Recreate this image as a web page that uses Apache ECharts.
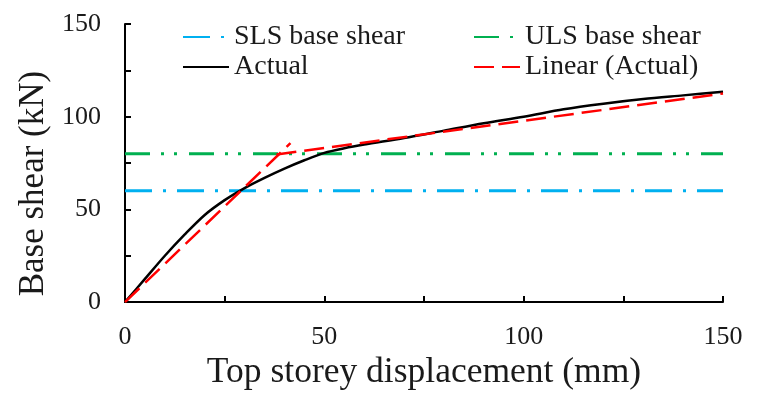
<!DOCTYPE html>
<html><head><meta charset="utf-8">
<script src="https://cdn.jsdelivr.net/npm/echarts@6/dist/echarts.min.js"></script>
<style>html,body{margin:0;padding:0;background:#fff}#c{width:760px;height:396px}</style>
</head><body><div id="c"></div>
<script>
// Data
const actualX = [0, 5, 10, 15, 20, 25, 30, 35, 40, 45, 50, 55, 60, 70, 80, 90, 100, 110, 120, 130, 140, 150];
const actualY = [0, 12.5, 25, 36.5, 47, 55, 61.5, 67, 72, 76.5, 80.5, 83, 85, 88.5, 92.5, 96.5, 100, 104, 107, 109.5, 111.5, 113.5];
const linear1X = [0, 41.5];
const linear1Y = [0, 85.7];
const linear2X = [38, 150];
const linear2Y = [79.6, 112.5];
const slsX = [0, 150];
const slsY = [60, 60];
const ulsX = [0, 150];
const ulsY = [80, 80];
const axisTicks = [0, 50, 100, 150];

const zip = (a, b) => a.map((v, i) => [v, b[i]]);
const font = 'Liberation Serif';
const chart = echarts.init(document.getElementById('c'));
const axisCommon = {
  type: 'value', min: 0, max: 150, interval: 25,
  axisLine: { show: true, lineStyle: { color: '#000', width: 2 } },
  axisTick: { show: true, inside: true, length: 6, lineStyle: { color: '#000', width: 2 } },
  splitLine: { show: false },
  axisLabel: {
    fontFamily: font, fontSize: 26, color: '#1a1a1a',
    formatter: v => axisTicks.includes(v) ? String(v) : ''
  },
  nameLocation: 'middle'
};
const legendCommon = {
  orient: 'vertical', top: 23, padding: 0,
  itemWidth: 46, itemHeight: 14, itemGap: 2,
  itemStyle: { opacity: 0 },
  textStyle: { fontFamily: font, fontSize: 28, color: '#1a1a1a' }
};
chart.setOption({
  animation: false,
  grid: { left: 125, right: 37, top: 24, bottom: 92 },
  xAxis: Object.assign({}, axisCommon, {
    name: 'Top storey displacement (mm)', nameGap: 44,
    nameTextStyle: { fontFamily: font, fontSize: 35.5, color: '#1a1a1a' },
    axisLabel: Object.assign({}, axisCommon.axisLabel, { margin: 22 })
  }),
  yAxis: Object.assign({}, axisCommon, {
    name: 'Base shear (kN)', nameGap: 68,
    nameTextStyle: { fontFamily: font, fontSize: 35, color: '#1a1a1a', padding: [0, 41, 0, 0] },
    axisLabel: Object.assign({}, axisCommon.axisLabel, { margin: 24 })
  }),
  legend: [
    Object.assign({}, legendCommon, { data: ['SLS base shear', 'Actual'], left: 182 }),
    Object.assign({}, legendCommon, { data: ['ULS base shear', 'Linear (Actual)'], left: 473 })
  ],
  series: [
    { name: 'SLS base shear', type: 'line', symbol: 'none', data: zip(slsX, slsY),
      lineStyle: { color: '#00B0F0', width: 3, type: [27, 11, 3, 11] }, itemStyle: { color: '#00B0F0' } },
    { name: 'ULS base shear', type: 'line', symbol: 'none', data: zip(ulsX, ulsY),
      lineStyle: { color: '#00B050', width: 3, type: [25, 11, 3, 10, 3, 12] }, itemStyle: { color: '#00B050' } },
    { name: 'Actual', type: 'line', symbol: 'none', smooth: 0.3, data: zip(actualX, actualY), z: 3,
      lineStyle: { color: '#000', width: 2.5 }, itemStyle: { color: '#000' } },
    { name: 'Linear (Actual)', type: 'line', symbol: 'none', data: zip(linear1X, linear1Y), z: 4,
      lineStyle: { color: '#FF0000', width: 2.5, type: [20, 8] }, itemStyle: { color: '#FF0000' } },
    { name: 'Linear (Actual)', type: 'line', symbol: 'none', data: zip(linear2X, linear2Y), z: 4,
      lineStyle: { color: '#FF0000', width: 2.5, type: [20, 8] }, itemStyle: { color: '#FF0000' } }
  ]
});
</script></body></html>
